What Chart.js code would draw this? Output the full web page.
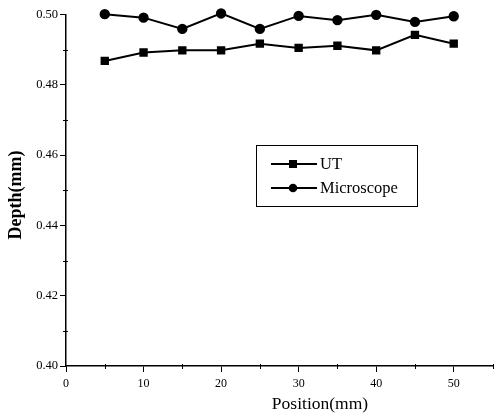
<!DOCTYPE html>
<html><head><meta charset="utf-8">
<script src="https://cdn.jsdelivr.net/npm/chart.js@4/dist/chart.umd.min.js"></script>
<style>html,body{margin:0;padding:0;background:#fff}</style>
</head><body>
<canvas id="c" width="499" height="415"></canvas>
<script>
const positions = [5, 10, 15, 20, 25, 30, 35, 40, 45, 50];
const utDepth = [0.4868, 0.4892, 0.4898, 0.4898, 0.4917, 0.4905, 0.4911, 0.4898, 0.4942, 0.4917];
const microscopeDepth = [0.5001, 0.4991, 0.4959, 0.5003, 0.4959, 0.4996, 0.4984, 0.4999, 0.4979, 0.4995];
const xTickLabels = ['0', '10', '20', '30', '40', '50'];
const yTickLabels = ['0.40', '0.42', '0.44', '0.46', '0.48', '0.50'];
const xTitle = 'Position(mm)';
const yTitle = 'Depth(mm)';

const serif = '"Liberation Serif", "Times New Roman", serif';

const legendPlugin = {
  id: 'boxLegend',
  afterDraw(chart) {
    const ctx = chart.ctx;
    ctx.save();
    const bx = 256, by = 145, bw = 161, bh = 61;
    ctx.fillStyle = '#fff';
    ctx.fillRect(bx, by, bw, bh);
    ctx.strokeStyle = '#000';
    ctx.lineWidth = 1;
    ctx.strokeRect(bx + 0.5, by + 0.5, bw, bh);
    const rows = [164, 188];
    chart.data.datasets.forEach((ds, i) => {
      const y = rows[i];
      ctx.strokeStyle = '#000';
      ctx.lineWidth = 1.8;
      ctx.beginPath();
      ctx.moveTo(271, y); ctx.lineTo(317, y); ctx.stroke();
      ctx.fillStyle = '#000';
      if (ds.pointStyle === 'rect') {
        ctx.fillRect(293 - 4, y - 4, 8, 8);
      } else {
        ctx.beginPath(); ctx.arc(293, y, 4.3, 0, Math.PI * 2); ctx.fill();
      }
      ctx.font = '16.5px ' + serif;
      ctx.textBaseline = 'middle';
      ctx.textAlign = 'left';
      ctx.fillText(ds.label, 320, y + 1);
    });
    ctx.restore();
  }
};

const decorPlugin = {
  id: 'decor',
  afterDraw(chart) {
    const ctx = chart.ctx;
    const xs = chart.scales.x, ys = chart.scales.y;
    ctx.save();
    ctx.strokeStyle = '#000';
    ctx.lineWidth = 1;
    for (let v = 5; v <= 55; v += 10) {
      const px = Math.round(xs.getPixelForValue(v)) + 0.5;
      ctx.beginPath(); ctx.moveTo(px, ys.bottom - 2); ctx.lineTo(px, ys.bottom + 3); ctx.stroke();
    }
    for (let k = 41; k <= 49; k += 2) {
      const py = Math.round(ys.getPixelForValue(k / 100)) + 0.5;
      ctx.beginPath(); ctx.moveTo(xs.left - 3, py); ctx.lineTo(xs.left + 2, py); ctx.stroke();
    }
    ctx.fillStyle = '#000';
    ctx.textAlign = 'center';
    ctx.textBaseline = 'middle';
    ctx.font = '17.5px ' + serif;
    ctx.fillText(xTitle, 320, 404);
    ctx.translate(16, 195);
    ctx.rotate(-Math.PI / 2);
    ctx.font = 'bold 18px ' + serif;
    ctx.fillText(yTitle, 0, 0);
    ctx.restore();
  }
};

new Chart(document.getElementById('c'), {
  type: 'line',
  data: {
    datasets: [
      { label: 'UT', data: positions.map((x, i) => ({x, y: utDepth[i]})),
        borderColor: '#000', backgroundColor: '#000', borderWidth: 2,
        pointStyle: 'rect', pointRadius: 4.5, pointHoverRadius: 4.5, clip: false, tension: 0 },
      { label: 'Microscope', data: positions.map((x, i) => ({x, y: microscopeDepth[i]})),
        borderColor: '#000', backgroundColor: '#000', borderWidth: 2,
        pointStyle: 'circle', pointRadius: 4.2, pointHoverRadius: 4.2, clip: false, tension: 0 }
    ]
  },
  options: {
    responsive: false,
    animation: false,
    devicePixelRatio: 1,
    layout: { padding: { top: 14.5, right: 0, left: 0, bottom: 0 } },
    plugins: { legend: { display: false }, tooltip: { enabled: false } },
    scales: {
      x: {
        type: 'linear', min: 0, max: 55,
        afterBuildTicks(s) { s.ticks = xTickLabels.map(t => ({ value: Number(t) })); },
        afterFit(s) { s.height = 415 - 366; },
        ticks: { color: '#000', font: { family: serif, size: 12 }, padding: 5,
          callback: (v) => xTickLabels.find(t => Number(t) === v) ?? '' , maxRotation: 0, autoSkip: false },
        grid: { drawOnChartArea: false, tickLength: 6, tickColor: '#000', tickWidth: 1 },
        border: { color: '#000', width: 1.5 }
      },
      y: {
        type: 'linear', min: 0.40, max: 0.50,
        afterBuildTicks(s) { s.ticks = yTickLabels.map(t => ({ value: Number(t) })); },
        afterFit(s) { s.width = 66; },
        ticks: { color: '#000', font: { family: serif, size: 12.5 }, padding: 2,
          callback: (v) => yTickLabels.find(t => Math.abs(Number(t) - v) < 1e-6) ?? '', autoSkip: false },
        grid: { drawOnChartArea: false, tickLength: 6, tickColor: '#000', tickWidth: 1 },
        border: { color: '#000', width: 1.5 }
      }
    }
  },
  plugins: [legendPlugin, decorPlugin]
});
</script>
</body></html>
